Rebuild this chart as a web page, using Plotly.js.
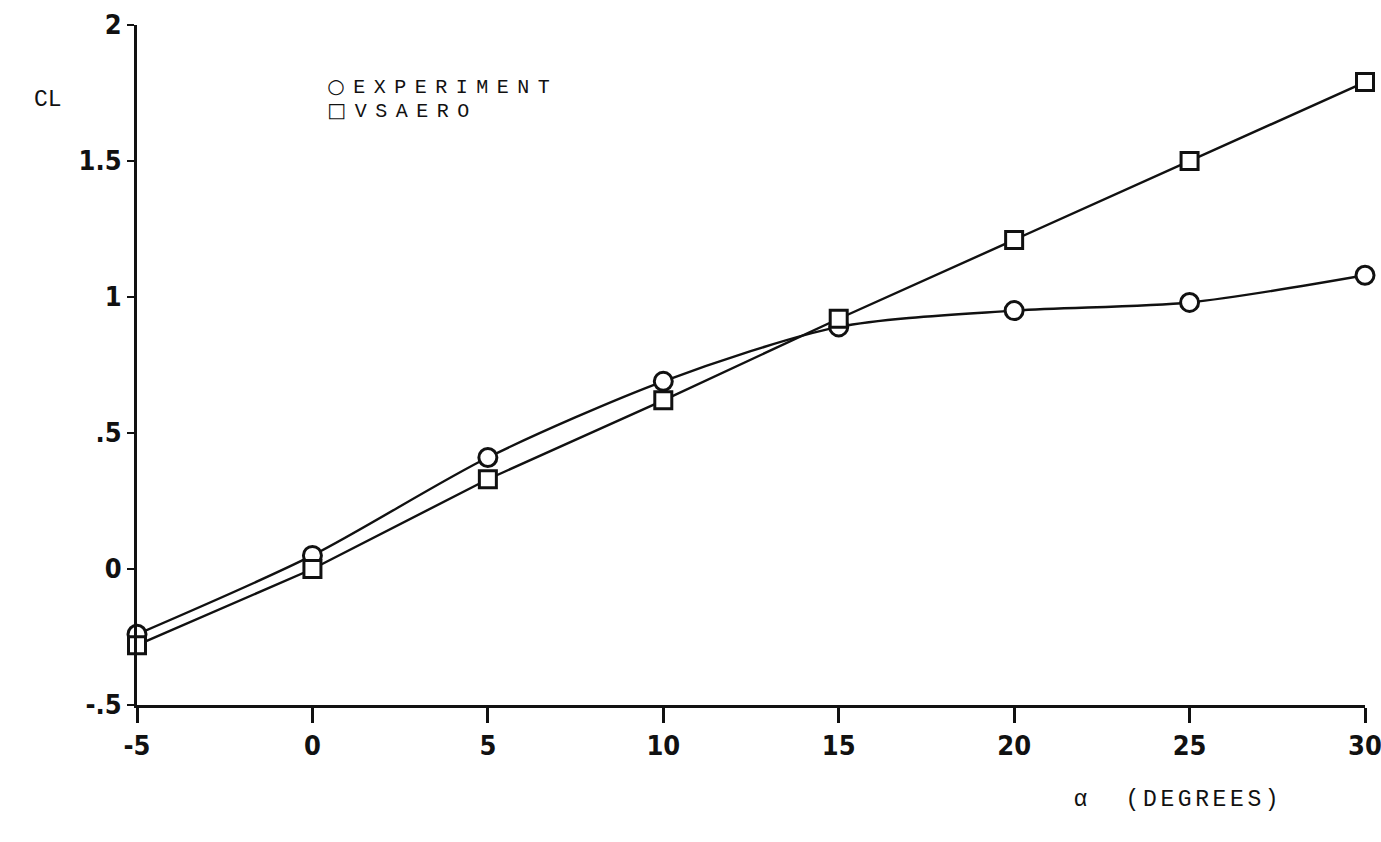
<!DOCTYPE html>
<html>
<head>
<meta charset="utf-8">
<script src="https://cdn.plot.ly/plotly-3.0.1.min.js"></script>
<style>
  html, body { margin: 0; padding: 0; background: #ffffff; }
  #chart { width: 1381px; height: 842px; }
</style>
</head>
<body>
<div id="chart"></div>
<script>
// Angle of attack (degrees)
const alpha = [-5, 0, 5, 10, 15, 20, 25, 30];
// Lift coefficient, experiment (circles)
const clExperiment = [-0.24, 0.05, 0.41, 0.69, 0.89, 0.95, 0.98, 1.08];
// Lift coefficient, VSAERO (squares)
const clVsaero = [-0.28, 0.00, 0.33, 0.62, 0.92, 1.21, 1.50, 1.79];

const xTickVals = [-5, 0, 5, 10, 15, 20, 25, 30];
const xTickText = ["-5", "0", "5", "10", "15", "20", "25", "30"];
const yTickVals = [-0.5, 0, 0.5, 1, 1.5, 2];
const yTickText = ["-.5", "0", ".5", "1", "1.5", "2"];

const tickFont = {family: "DejaVu Sans Condensed, Liberation Sans Narrow, DejaVu Sans, sans-serif", size: 27, color: "#111", weight: "bold"};
const typeFont = {family: "Liberation Mono, Courier New, monospace", size: 23, color: "#111"};
const legendFont = {family: "Liberation Mono, Courier New, monospace", size: 20, color: "#111"};

const traces = [
  {
    x: alpha, y: clExperiment, name: "EXPERIMENT",
    mode: "lines+markers", type: "scatter", cliponaxis: false,
    line: {color: "#111", width: 2.4, shape: "spline", smoothing: 0.8},
    marker: {symbol: "circle", size: 18, color: "#ffffff", line: {color: "#111", width: 3}}
  },
  {
    x: alpha, y: clVsaero, name: "VSAERO",
    mode: "lines+markers", type: "scatter", cliponaxis: false,
    line: {color: "#111", width: 2.4},
    marker: {symbol: "square", size: 17, color: "#ffffff", line: {color: "#111", width: 3}}
  }
];

const px = function (x) { return (x - 137) / 1228; };
const py = function (y) { return (705 - y) / 680; };

const layout = {
  width: 1381, height: 842,
  margin: {l: 137, r: 16, t: 25, b: 137},
  paper_bgcolor: "#ffffff", plot_bgcolor: "#ffffff",
  showlegend: false,
  xaxis: {
    range: [-5, 30], tickvals: xTickVals, ticktext: xTickText,
    showgrid: false, zeroline: false, showline: true, linecolor: "#111", linewidth: 3,
    ticks: "outside", ticklen: 15, tickwidth: 3, tickcolor: "#111",
    tickfont: tickFont, ticklabelstandoff: 0, ticklabeloverflow: "allow", fixedrange: true
  },
  yaxis: {
    range: [-0.5, 2], tickvals: yTickVals, ticktext: yTickText,
    showgrid: false, zeroline: false, showline: true, linecolor: "#111", linewidth: 3,
    ticks: "outside", ticklen: 7, tickwidth: 2, tickcolor: "#111",
    tickfont: tickFont, ticklabelstandoff: 0, ticklabeloverflow: "allow", fixedrange: true
  },
  annotations: [
    {text: "CL", xref: "paper", yref: "paper", x: px(48), y: py(100),
     xanchor: "center", yanchor: "middle", showarrow: false, font: typeFont},
    {text: "<span style=\"font-family:DejaVu Sans\">○</span>EXPERIMENT", xref: "paper", yref: "paper", x: px(442), y: py(86),
     xanchor: "center", yanchor: "middle", showarrow: false, font: legendFont},
    {text: "<span style=\"font-family:DejaVu Sans\">□</span>VSAERO", xref: "paper", yref: "paper", x: px(402), y: py(110),
     xanchor: "center", yanchor: "middle", showarrow: false, font: legendFont},
    {text: "α  (DEGREES)", xref: "paper", yref: "paper", x: px(1178), y: py(800),
     xanchor: "center", yanchor: "middle", showarrow: false, font: typeFont}
  ]
};

Plotly.newPlot("chart", traces, layout, {displayModeBar: false, staticPlot: true}).then(function () {
  const spacing = {"○EXPERIMENT": "8.5px", "□VSAERO": "8.5px", "α  (DEGREES)": "3.6px"};
  document.querySelectorAll(".annotation-text").forEach(function (el) {
    const s = spacing[el.textContent];
    if (s) el.style.letterSpacing = s;
  });
});
</script>
</body>
</html>
